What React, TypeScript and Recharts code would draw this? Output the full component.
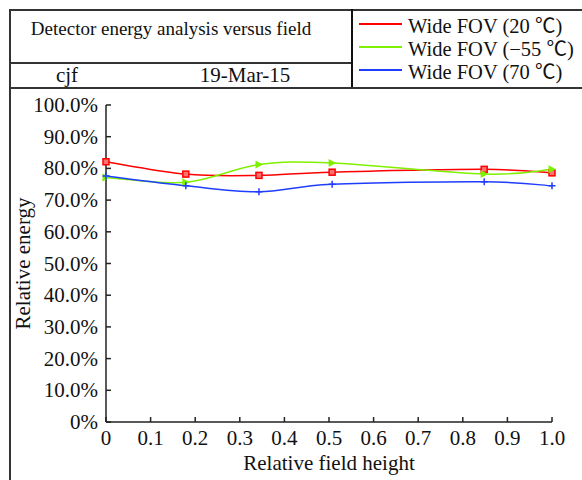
import React from "react";
import { LineChart, Line, XAxis, YAxis } from "recharts";

const fieldHeights = [0, 0.179, 0.343, 0.507, 0.848, 1.0];
const red20 = [82.1, 78.2, 77.8, 78.8, 79.7, 78.6];
const green55 = [77.1, 75.6, 81.2, 81.7, 78.2, 79.7];
const blue70 = [77.6, 74.5, 72.6, 75.0, 75.8, 74.5];
const xTicks = [0, 0.1, 0.2, 0.3, 0.4, 0.5, 0.6, 0.7, 0.8, 0.9, 1.0];
const yTicks = [0, 10, 20, 30, 40, 50, 60, 70, 80, 90, 100];
const seriesNames = ["Wide FOV (20 \u2103)", "Wide FOV (\u221255 \u2103)", "Wide FOV (70 \u2103)"];
const seriesColors = ["#ff0000", "#7ff000", "#1f3dff"];

const data = fieldHeights.map((x, i) => ({ x, a: red20[i], b: green55[i], c: blue70[i] }));

const FONT = "'Liberation Serif', 'Noto Sans CJK SC', serif";

// Excel-like smoothing (uniform Catmull-Rom)
function smoothCurve(context: any) {
  let pts: [number, number][] = [];
  return {
    areaStart() {},
    areaEnd() {},
    lineStart() {
      pts = [];
    },
    lineEnd() {
      const n = pts.length;
      if (!n) return;
      context.moveTo(pts[0][0], pts[0][1]);
      for (let i = 0; i < n - 1; i++) {
        const p0 = pts[i - 1] || pts[i];
        const p1 = pts[i];
        const p2 = pts[i + 1];
        const p3 = pts[i + 2] || p2;
        context.bezierCurveTo(
          p1[0] + (p2[0] - p0[0]) / 6,
          p1[1] + (p2[1] - p0[1]) / 6,
          p2[0] - (p3[0] - p1[0]) / 6,
          p2[1] - (p3[1] - p1[1]) / 6,
          p2[0],
          p2[1]
        );
      }
    },
    point(x: number, y: number) {
      pts.push([+x, +y]);
    },
  };
}

const SquareDot = (p: any) => (
  <rect key={`s${p.index}`} x={p.cx - 3} y={p.cy - 3} width={6} height={6} fill="#ff7070" stroke="#ff0000" strokeWidth={1.5} />
);
const TriDot = (p: any) => (
  <path key={`t${p.index}`} d={`M${p.cx - 3.5},${p.cy - 4} L${p.cx + 4},${p.cy} L${p.cx - 3.5},${p.cy + 4} Z`} fill="#7ff000" />
);
const PlusDot = (p: any) => (
  <path key={`p${p.index}`} d={`M${p.cx - 3.5},${p.cy} H${p.cx + 3.5} M${p.cx},${p.cy - 3.5} V${p.cy + 3.5}`} stroke="#1f3dff" strokeWidth={1.5} />
);

const XTick = (p: any) => {
  const v = p.payload.value;
  const axisY = p.y - 8;
  return (
    <g>
      <line x1={p.x} x2={p.x} y1={axisY} y2={axisY - 5} stroke="#222" strokeWidth={1.5} />
      <text x={p.x} y={p.y} dy={15} textAnchor="middle" fontFamily={FONT} fontSize={21} fill="#111">
        {v === 0 ? "0" : v.toFixed(1)}
      </text>
    </g>
  );
};

const YTick = (p: any) => {
  const v = p.payload.value;
  const axisX = p.x + 8;
  return (
    <g>
      <line x1={axisX} x2={axisX + 5} y1={p.y} y2={p.y} stroke="#222" strokeWidth={1.5} />
      <text x={p.x} y={p.y} dy={7} textAnchor="end" fontFamily={FONT} fontSize={21} fill="#111">
        {v === 0 ? "0%" : v.toFixed(1) + "%"}
      </text>
    </g>
  );
};

const line = (s: React.CSSProperties) => <div style={{ position: "absolute", background: "#333", ...s }} />;

export default function App() {
  return (
    <div style={{ position: "absolute", left: 0, top: 0, width: 582, height: 480, background: "#fff", overflow: "hidden" }}>
      {line({ left: 9, top: 9, width: 2, height: 471 })}
      {line({ left: 9, top: 9, width: 573, height: 2 })}
      {line({ left: 9, top: 62, width: 344, height: 2 })}
      {line({ left: 351, top: 9, width: 2, height: 80, background: "#111" })}
      {line({ left: 9, top: 87, width: 573, height: 2 })}
      <div style={{ position: "absolute", left: 1, width: 340, top: 18, textAlign: "center", fontFamily: FONT, fontSize: 19, color: "#111" }}>
        Detector energy analysis versus field
      </div>
      <div style={{ position: "absolute", left: 37, width: 60, top: 63, textAlign: "center", fontFamily: FONT, fontSize: 21, color: "#111" }}>cjf</div>
      <div style={{ position: "absolute", left: 185, width: 120, top: 63, textAlign: "center", fontFamily: FONT, fontSize: 21, color: "#111" }}>19-Mar-15</div>
      <div style={{ position: "absolute", left: 359, top: 12, fontFamily: FONT, fontSize: 20.5, color: "#111" }}>
        {seriesNames.map((n, i) => (
          <div key={n} style={{ display: "flex", alignItems: "center", height: 23.3 }}>
            <div style={{ width: 43, height: 0, borderTop: `2px solid ${seriesColors[i]}`, marginRight: 6 }} />
            <span style={{ whiteSpace: "nowrap" }}>{n}</span>
          </div>
        ))}
      </div>
      <div style={{ position: "absolute", left: 0, top: 0 }}>
        <LineChart width={582} height={480} data={data} margin={{ top: 105, right: 30, bottom: 0, left: 0 }}>
          <XAxis
            dataKey="x"
            type="number"
            domain={[0, 1]}
            ticks={xTicks}
            tickLine={false}
            tickSize={0}
            tickMargin={8}
            tick={XTick}
            interval={0}
            height={58}
            axisLine={{ stroke: "#222", strokeWidth: 1.5 }}
            label={{ value: "Relative field height", position: "insideBottom", offset: 10, style: { fontFamily: FONT, fontSize: 21, fill: "#111" } }}
          />
          <YAxis
            type="number"
            domain={[0, 100]}
            ticks={yTicks}
            tickLine={false}
            tickSize={0}
            tickMargin={8}
            tick={YTick}
            interval={0}
            width={106}
            axisLine={{ stroke: "#222", strokeWidth: 1.5 }}
            label={{ value: "Relative energy", angle: -90, position: "insideLeft", offset: 23, style: { fontFamily: FONT, fontSize: 21, fill: "#111", textAnchor: "middle" } }}
          />
          <Line dataKey="a" name={seriesNames[0]} type={smoothCurve as any} stroke={seriesColors[0]} strokeWidth={1.5} dot={SquareDot} isAnimationActive={false} />
          <Line dataKey="b" name={seriesNames[1]} type={smoothCurve as any} stroke={seriesColors[1]} strokeWidth={1.5} dot={TriDot} isAnimationActive={false} />
          <Line dataKey="c" name={seriesNames[2]} type={smoothCurve as any} stroke={seriesColors[2]} strokeWidth={1.5} dot={PlusDot} isAnimationActive={false} />
        </LineChart>
      </div>
    </div>
  );
}
